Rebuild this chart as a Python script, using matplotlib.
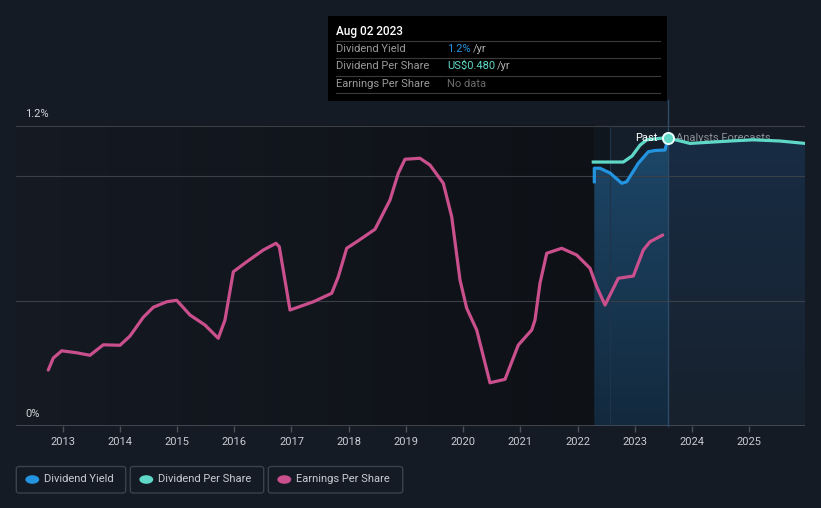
import numpy as np
import matplotlib
matplotlib.use("Agg")
import matplotlib.pyplot as plt
from matplotlib.patches import Polygon, FancyBboxPatch, Circle
from matplotlib.colors import to_rgb
from matplotlib.lines import Line2D

plt.rcParams['font.family'] = ['Roboto', 'DejaVu Sans']

# ---------------- data ----------------
year_ticks = [2013, 2014, 2015, 2016, 2017, 2018, 2019, 2020, 2021, 2022, 2023, 2024, 2025]
y_tick_vals = [0.0, 1.2]
y_tick_labels = ["0%", "1.2%"]
grid_vals = [0.5, 1.0, 1.2]

eps_x = [2012.748, 2012.836, 2012.983, 2013.245, 2013.477, 2013.710, 2014.002, 2014.177,
         2014.409, 2014.584, 2014.818, 2014.993, 2015.226, 2015.488, 2015.720, 2015.837,
         2015.983, 2016.217, 2016.507, 2016.729, 2016.787, 2016.974, 2017.381, 2017.703,
         2017.818, 2017.965, 2018.140, 2018.460, 2018.722, 2018.867, 2018.984, 2019.246,
         2019.421, 2019.654, 2019.801, 2019.946, 2020.063, 2020.238, 2020.470, 2020.733,
         2020.965, 2021.199, 2021.257, 2021.344, 2021.462, 2021.724, 2021.986, 2022.219,
         2022.336, 2022.481, 2022.713, 2022.976, 2023.150, 2023.267, 2023.490]
eps_y = [0.225, 0.273, 0.302, 0.294, 0.284, 0.326, 0.324, 0.361,
         0.436, 0.476, 0.498, 0.504, 0.445, 0.405, 0.352, 0.425,
         0.618, 0.658, 0.705, 0.732, 0.718, 0.465, 0.498, 0.532,
         0.598, 0.712, 0.738, 0.788, 0.905, 1.012, 1.068, 1.072,
         1.045, 0.972, 0.838, 0.585, 0.472, 0.385, 0.174, 0.188,
         0.325, 0.385, 0.425, 0.572, 0.692, 0.712, 0.685, 0.632,
         0.558, 0.485, 0.592, 0.601, 0.705, 0.738, 0.765]

yield_x = [2022.294, 2022.294, 2022.394, 2022.569, 2022.773, 2022.860, 2023.063,
           2023.238, 2023.355, 2023.530, 2023.584]
yield_pct = [0.978, 1.032, 1.032, 1.013, 0.972, 0.978, 1.052, 1.098, 1.103, 1.105, 1.153]

dps_past_x = [2022.276, 2022.801, 2022.953, 2023.093, 2023.210, 2023.500, 2023.584]
dps_past_usd = [0.440, 0.440, 0.450, 0.468, 0.477, 0.480, 0.480]
dps_fc_x = [2023.584, 2023.967, 2024.316, 2024.666, 2025.068, 2025.540, 2025.977]
dps_fc_usd = [0.480, 0.471, 0.473, 0.475, 0.477, 0.475, 0.471]

past_start = 2022.29
past_sub = 2022.57
hover_x = 2023.584  # Aug 02 2023

# ---------------- styling ----------------
W, H = 821, 508
BG = "#151b25"
C_YIELD = "#2394df"
C_DPS = "#5fd8c8"
C_EPS = "#c94f8d"
DPS_TO_AXIS = 1.153 / 0.480

fig = plt.figure(figsize=(W / 100, H / 100), dpi=100, facecolor=BG)
ax = fig.add_axes([16 / W, (H - 426.3) / H, (805 - 16) / W, (426.3 - 100) / H])
ax.set_facecolor("none")
XMIN, XMAX = 2012.184, 2025.977
YMAX = 1.305
ax.set_xlim(XMIN, XMAX)
ax.set_ylim(0, YMAX)
for s in ax.spines.values():
    s.set_visible(False)
ax.set_yticks([])
ax.set_xticks(year_ticks)
ax.set_xticklabels([str(y) for y in year_ticks], color="#c8ccd2", fontsize=8)
ax.tick_params(axis="x", length=4, color="#4a4f58", pad=4, width=1)


def grad_img(c0, c1, horizontal=False):
    t = np.linspace(0, 1, 256)
    a = np.array(to_rgb(c0)); b = np.array(to_rgb(c1))
    g = a[None, :] * (1 - t[:, None]) + b[None, :] * t[:, None]
    if horizontal:
        return g[None, :, :]
    return g[:, None, :]


# dark plot area (history)
ax.imshow(grad_img("#151a23", "#0e1116", horizontal=True), extent=(XMIN, past_start, 0, 1.2),
          aspect="auto", zorder=0.5, interpolation="bilinear")
# past band
ax.axvspan(past_start, past_sub, ymin=0, ymax=1.2 / YMAX, color="#10161d", lw=0, zorder=0.6)
ax.axvspan(past_sub, hover_x, ymin=0, ymax=1.2 / YMAX, color="#141e2b", lw=0, zorder=0.6)

# fill under yield line
yx = np.array(yield_x); yy = np.array(yield_pct)
poly = Polygon(np.column_stack([np.r_[yx, yx[-1], yx[0]], np.r_[yy, 0, 0]]), closed=True,
               facecolor="none", edgecolor="none")
ax.add_patch(poly)
im = ax.imshow(grad_img("#1d4769", "#13293d"), extent=(yx[0], yx[-1], 0, 1.16),
               aspect="auto", zorder=0.7, interpolation="bilinear")
im.set_clip_path(poly)

# forecast fill under dps line
fx = np.array(dps_fc_x); fy = np.array(dps_fc_usd) * DPS_TO_AXIS
poly2 = Polygon(np.column_stack([np.r_[fx, fx[-1], fx[0]], np.r_[fy, 0, 0]]), closed=True,
                facecolor="none", edgecolor="none")
ax.add_patch(poly2)
im2 = ax.imshow(grad_img("#172c44", "#18212d"), extent=(fx[0], fx[-1], 0, 1.16),
                aspect="auto", zorder=0.7, interpolation="bilinear")
im2.set_clip_path(poly2)
ax.set_xlim(XMIN, XMAX)
ax.set_ylim(0, YMAX)

# grid & baseline
for g in grid_vals:
    ax.axhline(g, color="#3a3f48", lw=0.8, zorder=1)
ax.axhline(0, color="#4a4f58", lw=1.2, zorder=1)
ax.axvline(past_sub, ymin=0, ymax=1.2 / YMAX, color="#1f344a", lw=0.8, zorder=1)
ax.plot([hover_x, hover_x], [0, YMAX], color="#2d4a66", lw=1, zorder=1.2, clip_on=False)

# lines
ax.plot(eps_x, eps_y, color=C_EPS, lw=2.3, solid_joinstyle="round", solid_capstyle="round", zorder=3)
ax.plot(yield_x, yield_pct, color=C_YIELD, lw=2.3, solid_joinstyle="round", zorder=3)
ax.plot(dps_past_x, np.array(dps_past_usd) * DPS_TO_AXIS, color=C_DPS, lw=2.3,
        solid_joinstyle="round", zorder=3.1)
ax.text(2023.72, 1.153, "Analysts Forecasts", color="#8b9097", fontsize=8, va="center",
        ha="left", zorder=3.0)
ax.plot(dps_fc_x, fy, color=C_DPS, lw=2.3, solid_joinstyle="round", zorder=3.1)
ax.plot([hover_x], [dps_fc_usd[0] * DPS_TO_AXIS], marker="o", ms=8, mfc=C_DPS, mec="#e8fffb",
        mew=1.4, zorder=5)
ax.text(2023.40, 1.153, "Past", color="white", fontsize=8, va="center", ha="right", zorder=5)

# y labels
for v, lab in zip(y_tick_vals, y_tick_labels):
    ax.text(2012.34, v + 0.048, lab, color="#d0d4da", fontsize=8, va="center", ha="left")


# ---------------- figure-pixel helpers ----------------
def P(x, y):
    return (x / W, 1 - y / H)


# tooltip
tip = FancyBboxPatch(P(328, 101), (667 - 328) / W, (101 - 16) / H, boxstyle="square,pad=0",
                     transform=fig.transFigure, facecolor="#000000", edgecolor="none", zorder=10)
fig.patches.append(tip)
fig.text(*P(336, 31), "Aug 02 2023", color="white", fontsize=8.5, fontweight="medium",
         va="center", ha="left", zorder=11)
for yy_ in [40.5, 58, 75.5, 93]:
    fig.lines.append(Line2D([336 / W, 660 / W], [1 - yy_ / H] * 2, transform=fig.transFigure,
                            color="#3a3a3a", lw=0.8, zorder=11))
rows = [("Dividend Yield", "1.2%", C_YIELD, "/yr", 473),
        ("Dividend Per Share", "US$0.480", C_DPS, "/yr", 497),
        ("Earnings Per Share", "No data", "#6a6a6a", "", 0)]
for (lab, val, col, suf, sx), ry in zip(rows, [49, 66, 84]):
    fig.text(*P(336, ry), lab, color="#9a9a9a", fontsize=8, va="center", ha="left", zorder=11)
    fig.text(*P(447, ry), val, color=col, fontsize=8, va="center", ha="left", zorder=11)
    if suf:
        fig.text(*P(sx, ry), suf, color="#b0b0b0", fontsize=8, va="center", ha="left",
                 zorder=11)

# legend
legend_items = [("Dividend Yield", C_YIELD, 16.3, 125.7),
                ("Dividend Per Share", C_DPS, 130.3, 263.7),
                ("Earnings Per Share", C_EPS, 268.3, 402.7)]
for lab, col, x0, x1 in legend_items:
    box = FancyBboxPatch(P(x0, 493), (x1 - x0) / W, (493 - 466.5) / H,
                         boxstyle="round,pad=0,rounding_size=0.004", transform=fig.transFigure,
                         facecolor="none", edgecolor="#3b414d", lw=1)
    fig.patches.append(box)
    fig.patches.append(Circle(P(x0 + 16, 479.5), 4.3 / H, transform=fig.transFigure,
                              facecolor=col, edgecolor="none"))
    fig.text(*P(x0 + 28, 479.5), lab, color="#c8ccd2", fontsize=8, va="center", ha="left")

fig.savefig("out.png", dpi=100, facecolor=BG)
